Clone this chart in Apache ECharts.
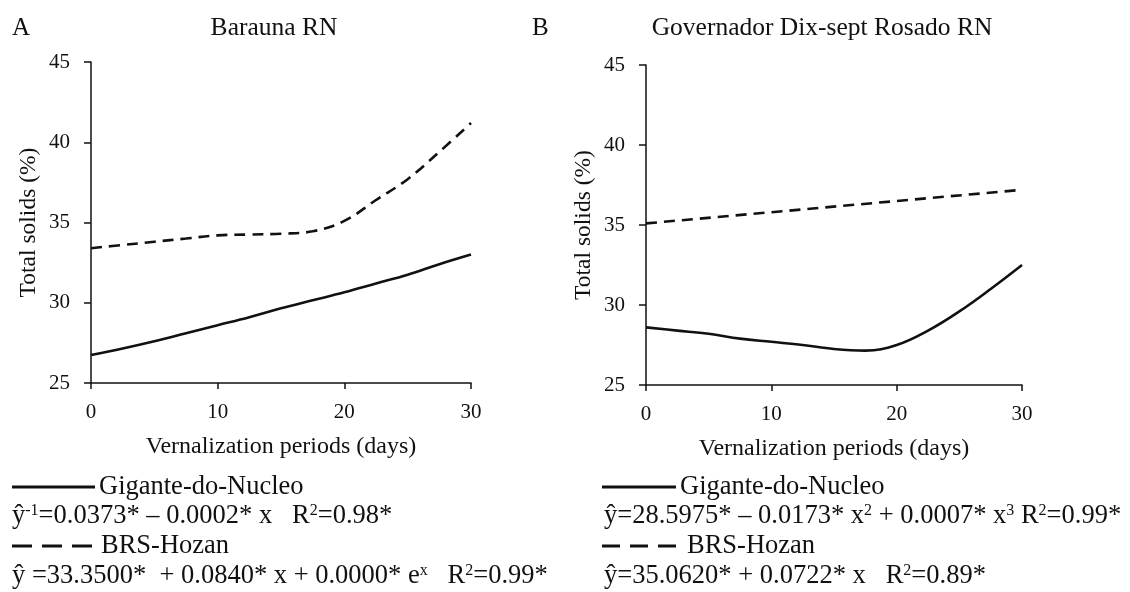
<!DOCTYPE html>
<html>
<head>
<meta charset="utf-8">
<script src="https://cdn.jsdelivr.net/npm/echarts@6/dist/echarts.min.js"></script>
<style>
html,body{margin:0;padding:0;background:#fff;}
#chart{width:1130px;height:592px;}
</style>
</head>
<body>
<div id="chart"></div>
<script>
// ---- data ----
const panelTitles = ['Barauna RN', 'Governador Dix-sept Rosado RN'];
const panelLetters = ['A', 'B'];
const yTicks = [25, 30, 35, 40, 45];
const xTicks = [0, 10, 20, 30];
const yName = 'Total solids (%)';
const xName = 'Vernalization periods (days)';
const seriesNames = ['Gigante-do-Nucleo', 'BRS-Hozan'];

const daysA = [0, 2.5, 5, 7.5, 10, 12.5, 15, 17.5, 20, 22.5, 25, 27.5, 30];
const giganteA = [26.75, 27.15, 27.6, 28.1, 28.6, 29.1, 29.65, 30.15, 30.65, 31.2, 31.75, 32.4, 33.0];
const hozanA = [33.4, 33.6, 33.8, 34.0, 34.2, 34.25, 34.3, 34.45, 35.1, 36.4, 37.7, 39.4, 41.2];

const daysB = [0, 2.5, 5, 7.5, 10, 12.5, 15, 17.5, 20, 22.5, 25, 27.5, 30];
const giganteB = [28.6, 28.4, 28.2, 27.9, 27.7, 27.5, 27.25, 27.15, 27.5, 28.4, 29.6, 31.0, 32.5];
const daysHozanB = [0, 10, 20, 30];
const hozanB = [35.1, 35.8, 36.5, 37.2];

const eqA1 = '{t|ŷ}{sup|-1}{t|=0.0373* – 0.0002* x   R}{sup|2}{t|=0.98*}';
const eqA2 = '{t|ŷ =33.3500*  + 0.0840* x + 0.0000* e}{sup|x}{t|   R}{sup|2}{t|=0.99*}';
const eqB1 = '{t|ŷ=28.5975* – 0.0173* x}{sup|2}{t| + 0.0007* x}{sup|3}{t| R}{sup|2}{t|=0.99*}';
const eqB2 = '{t|ŷ=35.0620* + 0.0722* x   R}{sup|2}{t|=0.89*}';

// ---- styling ----
const FONT = "'Liberation Serif', 'Times New Roman', serif";
const INK = '#111';
const LEG = 26.5;
const pairs = (xs, ys) => xs.map((x, i) => [x, ys[i]]);

const grids = [
  {left: 91, top: 62, width: 380, height: 321},
  {left: 646, top: 65, width: 376, height: 320}
];

function xAxisFor(i) {
  return {
    type: 'value', gridIndex: i, min: xTicks[0], max: xTicks[xTicks.length - 1], interval: 10,
    name: xName, nameLocation: 'middle', nameGap: 52,
    nameTextStyle: {fontFamily: FONT, fontSize: 24, color: INK},
    axisLine: {show: true, onZero: false, lineStyle: {color: INK, width: 1.5}},
    axisTick: {show: true, inside: false, length: 6, lineStyle: {color: INK, width: 1.5}},
    axisLabel: {fontFamily: FONT, fontSize: 21, color: INK, margin: 19},
    splitLine: {show: false}
  };
}
function yAxisFor(i) {
  return {
    type: 'value', gridIndex: i, min: yTicks[0], max: yTicks[yTicks.length - 1], interval: 5,
    name: yName, nameLocation: 'middle', nameGap: 50,
    nameTextStyle: {fontFamily: FONT, fontSize: 23.5, color: INK},
    axisLine: {show: true, onZero: false, lineStyle: {color: INK, width: 1.5}},
    axisTick: {show: true, inside: false, length: 7, lineStyle: {color: INK, width: 1.5}},
    axisLabel: {fontFamily: FONT, fontSize: 21, color: INK, margin: 21},
    splitLine: {show: false}
  };
}

function lineSeries(name, i, data, dashed, smooth) {
  return {
    name, type: 'line', xAxisIndex: i, yAxisIndex: i, data,
    smooth: smooth, showSymbol: false, silent: true,
    lineStyle: {color: INK, width: 2.6, type: dashed ? [11, 7] : 'solid'}
  };
}

function txt(text, x, y, size, align) {
  return {type: 'text', x, y, style: {text, fill: INK, font: size + 'px ' + FONT, textAlign: align || 'left', textVerticalAlign: 'middle'}};
}
function rich(text, x, y) {
  return {type: 'text', x, y, style: {
    text, fill: INK, textVerticalAlign: 'middle',
    rich: {
      t: {fontFamily: FONT, fontSize: LEG, color: INK},
      sup: {fontFamily: FONT, fontSize: 16, color: INK, verticalAlign: 'top'}
    }
  }};
}
function solidSample(x1, x2, y) {
  return {type: 'line', shape: {x1, y1: y, x2, y2: y}, style: {stroke: INK, lineWidth: 3}};
}
function dashSample(x1, x2, y, dash, gap) {
  return {type: 'line', shape: {x1, y1: y, x2, y2: y}, style: {stroke: INK, lineWidth: 3, lineDash: [dash, gap]}};
}

const chart = echarts.init(document.getElementById('chart'), null, {renderer: 'canvas'});
chart.setOption({
  animation: false,
  backgroundColor: '#fff',
  grid: grids,
  xAxis: [xAxisFor(0), xAxisFor(1)],
  yAxis: [yAxisFor(0), yAxisFor(1)],
  series: [
    lineSeries(seriesNames[0], 0, pairs(daysA, giganteA), false, 0.4),
    lineSeries(seriesNames[1], 0, pairs(daysA, hozanA), true, 0.4),
    lineSeries(seriesNames[0], 1, pairs(daysB, giganteB), false, 0.4),
    lineSeries(seriesNames[1], 1, pairs(daysHozanB, hozanB), true, false)
  ],
  graphic: [
    txt(panelLetters[0], 12, 28, 25),
    txt(panelTitles[0], 274, 28, 25.5, 'center'),
    txt(panelLetters[1], 532, 28, 25),
    txt(panelTitles[1], 822, 28, 25.5, 'center'),

    solidSample(12, 95, 487),
    txt(seriesNames[0], 99, 487, LEG),
    rich(eqA1, 12, 516),
    dashSample(12, 92, 546, 20, 10),
    txt(seriesNames[1], 101, 546, LEG),
    rich(eqA2, 12, 576),

    solidSample(602, 676, 487),
    txt(seriesNames[0], 680, 487, LEG),
    rich(eqB1, 604, 516),
    dashSample(602, 676, 546, 18, 10),
    txt(seriesNames[1], 687, 546, LEG),
    rich(eqB2, 604, 576)
  ]
});
</script>
</body>
</html>
